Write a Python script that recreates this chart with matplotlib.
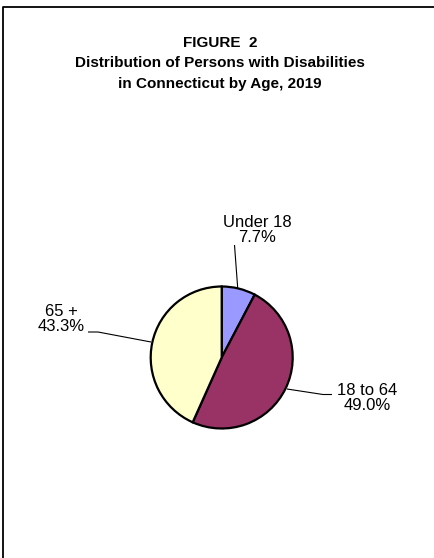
import matplotlib
matplotlib.use("Agg")
import matplotlib.pyplot as plt
from matplotlib.lines import Line2D

plt.rcParams['font.family'] = ['Liberation Sans', 'DejaVu Sans']

# data
age_groups = ['Under 18', '18 to 64', '65 +']
shares = [7.7, 49.0, 43.3]
colors = ['#9999FF', '#993366', '#FFFFCC']
title = 'FIGURE  2\nDistribution of Persons with Disabilities\nin Connecticut by Age, 2019'

W, H = 435, 558
fig = plt.figure(figsize=(W / 100, H / 100), dpi=100)
ax = fig.add_axes([0, 0, 1, 1])

# pie, in pixel coordinates (y measured from the bottom)
cx, cy, r = 221.7, H - 357.5, 71
ax.pie(shares, colors=colors, startangle=90, counterclock=False,
       center=(cx, cy), radius=r, frame=True,
       wedgeprops=dict(edgecolor='black', linewidth=1.6))
ax.set_xlim(0, W)
ax.set_ylim(0, H)
ax.axis('off')

# label placement: text centre and leader path (pixels from top)
label_pos = [(257, 230), (367, 398), (61, 319)]
leaders = [
    [(234.5, 245), (237.7, 288)],
    [(332, 394.5), (323, 394.5), (287, 389)],
    [(88, 332), (98, 332), (151, 342)],
]
for name, val, (tx, ty), path in zip(age_groups, shares, label_pos, leaders):
    ax.text(tx, H - ty, f'{name}\n{val:.1f}%', ha='center', va='center',
            fontsize=12, linespacing=1.05)
    xs = [p[0] for p in path]
    ys = [H - p[1] for p in path]
    ax.plot(xs, ys, color='black', linewidth=0.8, solid_capstyle='butt')

fig.text(220 / W, 1 - 36 / H, title, ha='center', va='top',
         fontsize=11, fontweight='bold', linespacing=1.58)

# chart frame (only left and top edges fall inside the picture)
fig.add_artist(Line2D([3.5 / W, 3.5 / W, 1.0], [0.0, 1 - 7 / H, 1 - 7 / H],
                      transform=fig.transFigure, color='black', linewidth=1.3))

fig.savefig('out.png', dpi=100, facecolor='w')
